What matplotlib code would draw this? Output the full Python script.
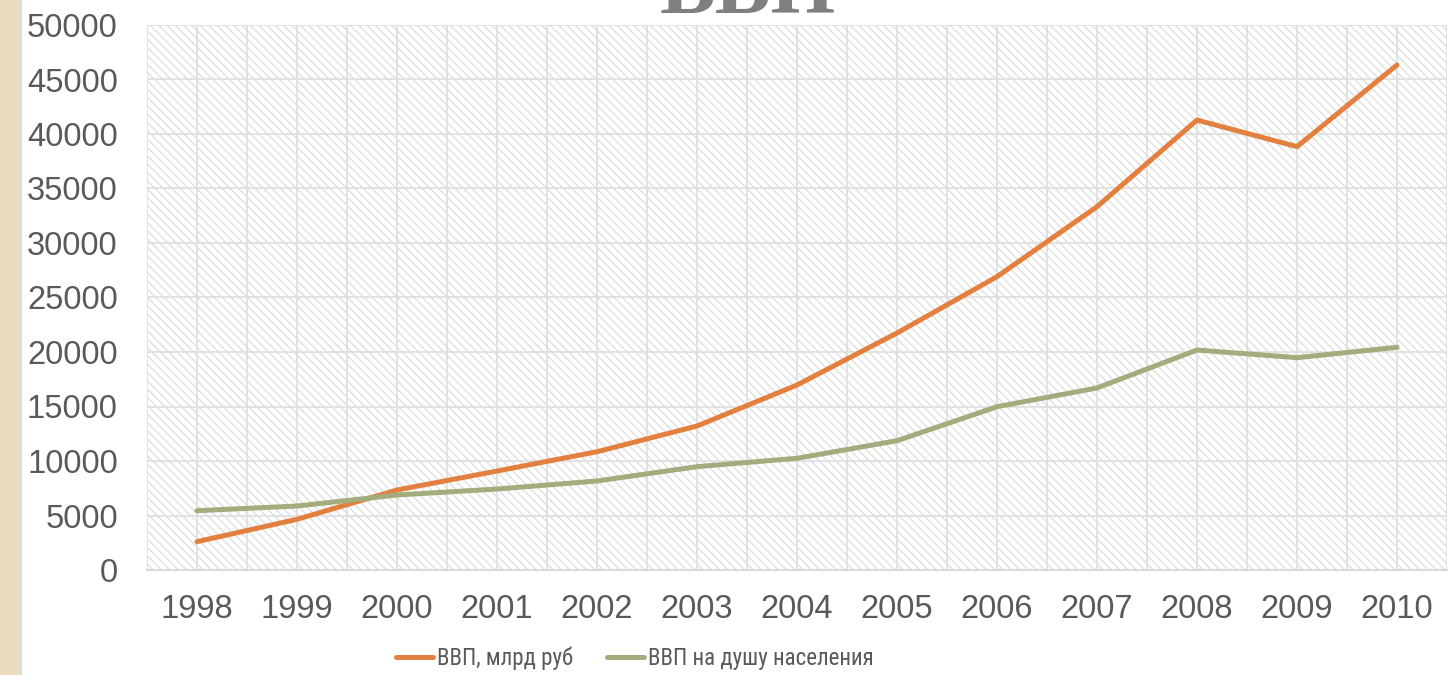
import matplotlib
matplotlib.use("Agg")
import matplotlib.pyplot as plt
from matplotlib.patches import Rectangle
from matplotlib import font_manager as fm
import numpy as np

years = ["1998", "1999", "2000", "2001", "2002", "2003", "2004",
         "2005", "2006", "2007", "2008", "2009", "2010"]
gdp_bln = [2600, 4650, 7340, 9080, 10850, 13210, 16970,
           21740, 26910, 33330, 41280, 38840, 46330]
gdp_per_capita = [5440, 5870, 6880, 7430, 8165, 9480, 10250,
                  11860, 14980, 16700, 20180, 19480, 20430]
series_names = ["ВВП, млрд руб", "ВВП на душу населения"]
title = "ВВП"

W, H = 1449, 675
fig = plt.figure(figsize=(W / 100, H / 100), dpi=100)
fig.patch.set_facecolor("white")

# beige strip on the left
fig.patches.append(Rectangle((0, 0), 20 / W, 1, transform=fig.transFigure,
                             facecolor="#EBDCC1", edgecolor="none", zorder=0))
fig.patches.append(Rectangle((20 / W, 0), 1.5 / W, 1, transform=fig.transFigure,
                             facecolor="#DADADA", edgecolor="none", zorder=0))

ax = fig.add_axes([147 / W, 105 / H, 1300 / W, 545 / H])
ax.set_facecolor("white")
plt.rcParams["hatch.linewidth"] = 0.8
ax.add_patch(Rectangle((0, 0), 1, 1, transform=ax.transAxes, facecolor="white",
                       edgecolor="#D9D9D9", linewidth=0, hatch="\\" * 4, zorder=0))

x = np.arange(len(years))
ax.plot(x, gdp_bln, color="#E3803F", lw=3.6, solid_capstyle="round",
        label=series_names[0], zorder=3)
ax.plot(x, gdp_per_capita, color="#A3AC7C", lw=3.6, solid_capstyle="round",
        label=series_names[1], zorder=3)

ax.set_xlim(-0.5, len(years) - 0.5)
ax.set_ylim(0, 50000)
ax.set_xticks(x)
ax.set_xticklabels(years)
ax.set_xticks(np.arange(-0.5, len(years), 1.0), minor=True)
ax.set_yticks(np.arange(0, 50001, 5000))
ax.set_yticklabels([str(v) for v in range(0, 50001, 5000)])

ax.grid(True, which="both", axis="x", color="#DEDEDE", lw=1.2, zorder=1)
ax.grid(True, which="major", axis="y", color="#DEDEDE", lw=1.2, zorder=1)
ax.set_axisbelow(True)
for s in ["top", "right", "left"]:
    ax.spines[s].set_visible(False)
ax.spines["bottom"].set_color("#D9D9D9")
ax.spines["bottom"].set_linewidth(1.5)

ax.tick_params(axis="both", which="both", length=0, colors="#595959")
ax.tick_params(axis="y", pad=21, labelsize=23.5)
ax.tick_params(axis="x", pad=17, labelsize=23.5)
for lab in ax.get_xticklabels() + ax.get_yticklabels():
    lab.set_fontfamily(["Liberation Sans", "DejaVu Sans"])

fig.text(748 / W, 1 - 13 / H, title, ha="center", va="baseline",
         fontsize=60, fontweight="bold", color="#7F7F7F",
         family=["Liberation Serif", "DejaVu Serif"])

# condensed font for the legend if one is installed
narrow = None
for f in fm.fontManager.ttflist:
    nm = f.name
    if "Mono" in nm or "Serif" in nm:
        continue
    if f.style != "normal" or f.weight not in (400, "normal", "regular", "book"):
        continue
    if ("Narrow" in nm or "Condensed" in nm or
            f.stretch in ("condensed", "semi-condensed", "extra-condensed")):
        narrow = f.fname
        if "Liberation" in nm:
            break
if narrow:
    legprop = fm.FontProperties(fname=narrow, size=16.5)
else:
    legprop = fm.FontProperties(family=["Liberation Sans"], size=15)

leg = fig.legend(loc="center", bbox_to_anchor=(635 / W, 1 - 658 / H),
                 ncol=2, frameon=False, handlelength=1.6, handletextpad=0.17,
                 columnspacing=1.5, prop=legprop)
for t in leg.get_texts():
    t.set_color("#595959")

fig.savefig("out.png", dpi=100)
